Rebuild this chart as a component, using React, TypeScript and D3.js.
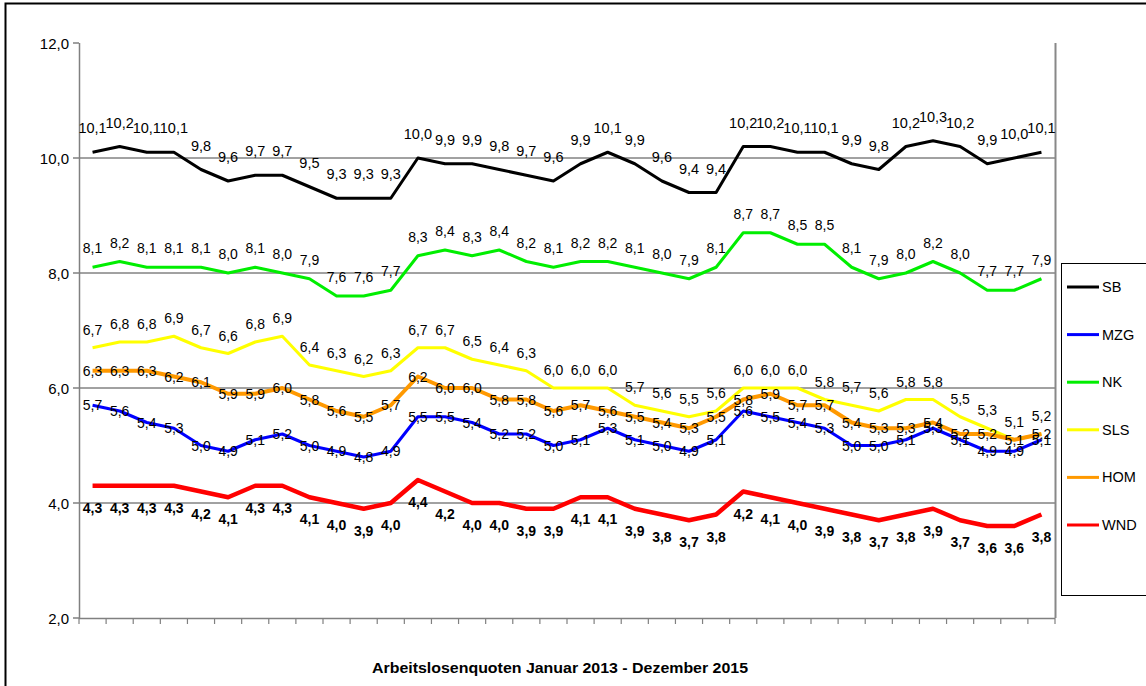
import React from "react";
import * as d3 from "d3";

const months: string[] = [
  "Jan 13","Feb 13","Mär 13","Apr 13","Mai 13","Jun 13","Jul 13","Aug 13","Sep 13","Okt 13","Nov 13","Dez 13",
  "Jan 14","Feb 14","Mär 14","Apr 14","Mai 14","Jun 14","Jul 14","Aug 14","Sep 14","Okt 14","Nov 14","Dez 14",
  "Jan 15","Feb 15","Mär 15","Apr 15","Mai 15","Jun 15","Jul 15","Aug 15","Sep 15","Okt 15","Nov 15","Dez 15",
];

const SB = [10.1,10.2,10.1,10.1,9.8,9.6,9.7,9.7,9.5,9.3,9.3,9.3, 10.0,9.9,9.9,9.8,9.7,9.6,9.9,10.1,9.9,9.6,9.4,9.4, 10.2,10.2,10.1,10.1,9.9,9.8,10.2,10.3,10.2,9.9,10.0,10.1];
const MZG = [5.7,5.6,5.4,5.3,5.0,4.9,5.1,5.2,5.0,4.9,4.8,4.9, 5.5,5.5,5.4,5.2,5.2,5.0,5.1,5.3,5.1,5.0,4.9,5.1, 5.6,5.5,5.4,5.3,5.0,5.0,5.1,5.3,5.1,4.9,4.9,5.1];
const NK = [8.1,8.2,8.1,8.1,8.1,8.0,8.1,8.0,7.9,7.6,7.6,7.7, 8.3,8.4,8.3,8.4,8.2,8.1,8.2,8.2,8.1,8.0,7.9,8.1, 8.7,8.7,8.5,8.5,8.1,7.9,8.0,8.2,8.0,7.7,7.7,7.9];
const SLS = [6.7,6.8,6.8,6.9,6.7,6.6,6.8,6.9,6.4,6.3,6.2,6.3, 6.7,6.7,6.5,6.4,6.3,6.0,6.0,6.0,5.7,5.6,5.5,5.6, 6.0,6.0,6.0,5.8,5.7,5.6,5.8,5.8,5.5,5.3,5.1,5.2];
const HOM = [6.3,6.3,6.3,6.2,6.1,5.9,5.9,6.0,5.8,5.6,5.5,5.7, 6.2,6.0,6.0,5.8,5.8,5.6,5.7,5.6,5.5,5.4,5.3,5.5, 5.8,5.9,5.7,5.7,5.4,5.3,5.3,5.4,5.2,5.2,5.1,5.2];
const WND = [4.3,4.3,4.3,4.3,4.2,4.1,4.3,4.3,4.1,4.0,3.9,4.0, 4.4,4.2,4.0,4.0,3.9,3.9,4.1,4.1,3.9,3.8,3.7,3.8, 4.2,4.1,4.0,3.9,3.8,3.7,3.8,3.9,3.7,3.6,3.6,3.8];

const yTicks = [2, 4, 6, 8, 10, 12];
const title = "Arbeitslosenquoten Januar 2013 - Dezember 2015";

type Series = { name: string; values: number[]; color: string; width: number; dy: number; bold: boolean };

const series: Series[] = [
  { name: "SB", values: SB, color: "#000000", width: 3, dy: -24, bold: false },
  { name: "MZG", values: MZG, color: "#0000ff", width: 3, dy: 0, bold: false },
  { name: "NK", values: NK, color: "#00ee00", width: 3, dy: -19, bold: false },
  { name: "SLS", values: SLS, color: "#ffff00", width: 3, dy: -18, bold: false },
  { name: "HOM", values: HOM, color: "#ff9900", width: 4, dy: 0, bold: false },
  { name: "WND", values: WND, color: "#ff0000", width: 4.5, dy: 22, bold: true },
];

const fmt = (v: number) => v.toFixed(1).replace(".", ",");

export default function App() {
  const W = 1146, H = 686;
  const left = 79, right = 1055, top = 43, bottom = 618;
  const x = d3.scaleBand<number>().domain(d3.range(months.length)).range([left, right]).paddingInner(0).paddingOuter(0);
  const bw = x.bandwidth();
  const cx = (i: number) => (x(i) as number) + bw / 2;
  const y = d3.scaleLinear().domain([2, 12]).range([bottom, top]);
  const line = d3.line<number>().x((_, i) => cx(i)).y((v) => y(v));
  const font = "'Liberation Sans', Arial, sans-serif";

  return (
    <svg width={W} height={H} style={{ position: "absolute", left: 0, top: 0, background: "#fff" }}>
      <rect x={0} y={0} width={W} height={H} fill="#fff" />
      <rect x={5.5} y={3.5} width={W + 20} height={H + 20} fill="none" stroke="#000" strokeWidth={2} />
      {yTicks.filter((t) => t !== 2 && t !== 12).map((t) => (
        <line key={"g" + t} x1={left} x2={right} y1={y(t)} y2={y(t)} stroke="#444" strokeWidth={1} />
      ))}
      <line x1={right + 0.5} x2={right + 0.5} y1={top} y2={bottom} stroke="#888" strokeWidth={2} />
      <line x1={left + 0.5} x2={left + 0.5} y1={top} y2={bottom} stroke="#808080" strokeWidth={1.5} />
      <line x1={left} x2={right} y1={bottom + 0.5} y2={bottom + 0.5} stroke="#808080" strokeWidth={1.5} />
      {yTicks.map((t) => (
        <g key={"yt" + t}>
          <line x1={left - 6} x2={left} y1={y(t)} y2={y(t)} stroke="#808080" strokeWidth={1.5} />
          <text x={left - 10} y={y(t)} textAnchor="end" dominantBaseline="central" fontFamily={font} fontSize={15} fill="#000">
            {fmt(t)}
          </text>
        </g>
      ))}
      {d3.range(months.length + 1).map((i) => {
        const xx = i < months.length ? (x(i) as number) : right;
        return <line key={"xt" + i} x1={xx} x2={xx} y1={bottom} y2={bottom + 6} stroke="#808080" strokeWidth={1.2} />;
      })}
      {series.map((s) => (
        <path key={"p" + s.name} d={line(s.values) || ""} fill="none" stroke={s.color} strokeWidth={s.width} strokeLinejoin="round" />
      ))}
      {series.map((s) => (
        <g key={"l" + s.name}>
          {s.values.map((v, i) => (
            <text key={i} x={cx(i)} y={y(v) + s.dy} textAnchor="middle" dominantBaseline="central" fontFamily={font}
              fontSize={s.name === "SB" ? 14.5 : 14} fontWeight={s.bold ? "bold" : "normal"} fill="#000">
              {fmt(v)}
            </text>
          ))}
        </g>
      ))}
      <rect x={1061.5} y={263.5} width={120} height={332} fill="#fff" stroke="#000" strokeWidth={1} />
      {series.map((s, i) => {
        const ly = 287 + i * 47.6;
        return (
          <g key={"lg" + s.name}>
            <line x1={1067} x2={1099} y1={ly} y2={ly} stroke={s.color} strokeWidth={3} />
            <text x={1102} y={ly} dominantBaseline="central" fontFamily={font} fontSize={14.5} fill="#000">{s.name}</text>
          </g>
        );
      })}
      <text x={560} y={667} textAnchor="middle" dominantBaseline="central" fontFamily={font}
        fontWeight="bold" fontSize={15} fill="#000" textLength={376} lengthAdjust="spacingAndGlyphs">
        {title}
      </text>
    </svg>
  );
}
